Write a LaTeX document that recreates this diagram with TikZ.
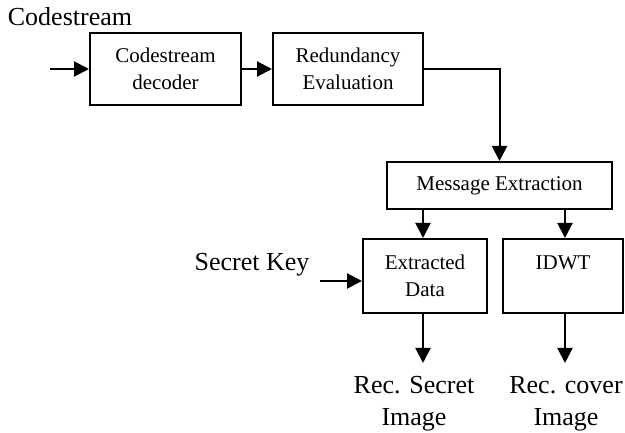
\documentclass[tikz,border=0pt]{standalone}
\usepackage{fontspec}
\setmainfont{Liberation Serif}
\usetikzlibrary{arrows.meta}

\tikzset{
  block/.style={draw, line width=2pt, fill=white, align=center, inner sep=0pt,
    font=\fontsize{21}{27}\selectfont},
  flow/.style={-{Triangle[length=15pt,width=15pt]}, line width=2pt},
  lbl/.style={align=center, inner sep=0pt, font=\fontsize{26}{32}\selectfont}
}

\begin{document}
\begin{tikzpicture}[x=1pt, y=-1pt]
        \useasboundingbox (0,0) rectangle (625,433);

        % Blocks
        \node[block, minimum width=151pt, minimum height=72pt] (dec) at (165.5,69) {Codestream\\decoder};
        \node[block, minimum width=150pt, minimum height=72pt] (red) at (348,69) {Redundancy\\Evaluation};
        \node[block, minimum width=225pt, minimum height=47pt] (msg) at (499.5,185.5) {Message Extraction};
        \node[block, minimum width=124pt, minimum height=74pt] (ext) at (425,276) {Extracted\\Data};
        \node[block, minimum width=120pt, minimum height=74pt] (idwt) at (563,276) {IDWT\\\phantom{Data}};

        % Labels
        \node[lbl] (cs) at (70,17) {Codestream};
        \node[lbl] (key) at (252,265) {Secret Key};
        \node[lbl] (recsec) at (414,404) {Rec. Secret\\Image};
        \node[lbl] (reccov) at (566,404) {Rec. cover\\Image};

        % Free ends of the arrows
        \coordinate (csin) at (50,69);
        \coordinate (keyin) at (320,281);
        \coordinate (secout) at (423,363);
        \coordinate (covout) at (565,363);

        % Arrows
        \draw[flow] (csin) -- (dec.west);
        \draw[flow] (dec.east) -- (red.west);
        \draw[flow] (red.east) -| (msg.north);
        \draw[flow] (msg.south -| secout) -- (ext.north -| secout);
        \draw[flow] (msg.south -| covout) -- (idwt.north -| covout);
        \draw[flow] (keyin) -- (keyin -| ext.west);
        \draw[flow] (ext.south -| secout) -- (secout);
        \draw[flow] (idwt.south -| covout) -- (covout);
\end{tikzpicture}
\end{document}
